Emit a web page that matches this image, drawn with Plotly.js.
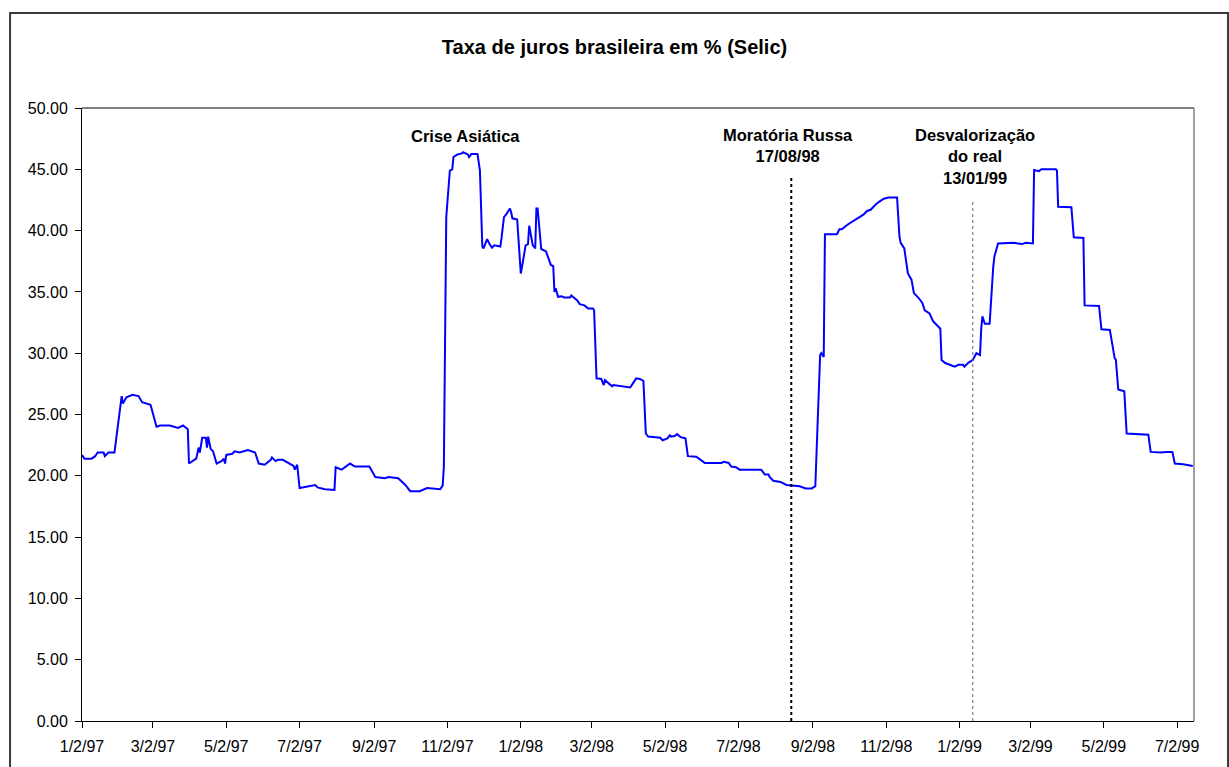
<!DOCTYPE html>
<html>
<head>
<meta charset="utf-8">
<script src="https://cdn.plot.ly/plotly-3.0.1.min.js"></script>
<style>
  html, body { margin: 0; padding: 0; background: #ffffff; }
  #chart { width: 1229px; height: 767px; }
</style>
</head>
<body>
<div id="chart"></div>
<script>
// Selic rate, % per year
const dates = [
  '1997-01-02','1997-01-04','1997-01-10','1997-01-13','1997-01-15','1997-01-20','1997-01-21','1997-01-24','1997-01-29',
  '1997-02-04','1997-02-05','1997-02-08','1997-02-13','1997-02-18','1997-02-21','1997-02-28',
  '1997-03-05','1997-03-08','1997-03-16','1997-03-23','1997-03-27','1997-03-31',
  '1997-04-01','1997-04-07','1997-04-09','1997-04-10','1997-04-12','1997-04-15','1997-04-16','1997-04-17','1997-04-19','1997-04-21','1997-04-24','1997-04-28','1997-04-30',
  '1997-05-01','1997-05-02','1997-05-07','1997-05-09','1997-05-13','1997-05-20','1997-05-26','1997-05-29',
  '1997-06-03','1997-06-08','1997-06-09','1997-06-12','1997-06-14','1997-06-18','1997-06-24','1997-06-27','1997-06-28','1997-06-30',
  '1997-07-02','1997-07-08','1997-07-15','1997-07-17','1997-07-23','1997-07-31',
  '1997-08-01','1997-08-06','1997-08-13','1997-08-17','1997-08-29',
  '1997-09-03','1997-09-11','1997-09-14','1997-09-22','1997-09-28',
  '1997-10-02','1997-10-10','1997-10-16','1997-10-27','1997-10-29','1997-10-30',
  '1997-11-01','1997-11-04','1997-11-06','1997-11-07','1997-11-10','1997-11-14','1997-11-15','1997-11-19','1997-11-20','1997-11-22','1997-11-27','1997-11-29',
  '1997-12-01','1997-12-02','1997-12-05','1997-12-07','1997-12-09','1997-12-11','1997-12-16','1997-12-17','1997-12-19','1997-12-21','1997-12-24','1997-12-25','1997-12-26','1997-12-30',
  '1998-01-02','1998-01-04','1998-01-06','1998-01-08','1998-01-09','1998-01-12','1998-01-14','1998-01-15','1998-01-16','1998-01-19','1998-01-23','1998-01-27','1998-01-29','1998-01-30','1998-01-31',
  '1998-02-02','1998-02-05','1998-02-07','1998-02-12','1998-02-13','1998-02-18','1998-02-20','1998-02-24','1998-02-27',
  '1998-03-03','1998-03-04','1998-03-06','1998-03-10','1998-03-12','1998-03-13','1998-03-17','1998-03-19','1998-03-20','1998-03-28',
  '1998-04-03','1998-04-05','1998-04-08','1998-04-11','1998-04-14','1998-04-16','1998-04-18','1998-04-28','1998-04-30',
  '1998-05-04','1998-05-06','1998-05-07','1998-05-10','1998-05-12','1998-05-15','1998-05-19','1998-05-21','1998-05-28',
  '1998-06-02','1998-06-04','1998-06-18','1998-06-20','1998-06-24','1998-06-26','1998-06-30',
  '1998-07-03','1998-07-21','1998-07-24','1998-07-27','1998-07-28','1998-07-31',
  '1998-08-06','1998-08-11','1998-08-17','1998-08-22','1998-08-27',
  '1998-09-01','1998-09-04','1998-09-08','1998-09-09','1998-09-11','1998-09-12','1998-09-22','1998-09-24','1998-09-26',
  '1998-10-01','1998-10-06','1998-10-10','1998-10-14','1998-10-17','1998-10-20','1998-10-24','1998-10-27','1998-10-31',
  '1998-11-04','1998-11-11','1998-11-13','1998-11-14','1998-11-17','1998-11-20','1998-11-23','1998-11-25','1998-11-29',
  '1998-12-02','1998-12-04','1998-12-08','1998-12-11','1998-12-13','1998-12-17','1998-12-18','1998-12-21','1998-12-29',
  '1999-01-01','1999-01-05','1999-01-06','1999-01-09','1999-01-13','1999-01-16','1999-01-19','1999-01-20','1999-01-21','1999-01-23','1999-01-27','1999-01-30','1999-01-31',
  '1999-02-03','1999-02-12','1999-02-16','1999-02-23','1999-02-26',
  '1999-03-04','1999-03-05','1999-03-09','1999-03-11','1999-03-23','1999-03-24','1999-03-25','1999-03-31',
  '1999-04-05','1999-04-07','1999-04-15','1999-04-16','1999-04-23','1999-04-28','1999-04-30',
  '1999-05-07','1999-05-11','1999-05-12','1999-05-14','1999-05-19','1999-05-21','1999-05-29',
  '1999-06-08','1999-06-10','1999-06-18','1999-06-23','1999-06-28','1999-06-30',
  '1999-07-05','1999-07-07','1999-07-15'
];

const selic = [
  21.7,21.4,21.4,21.6,21.9,21.9,21.6,21.9,21.9,
  26.5,25.9,26.4,26.6,26.5,26.0,25.8,
  24.0,24.1,24.1,23.9,24.1,23.8,
  21.0,21.4,22.3,21.9,23.1,23.1,22.3,23.2,22.2,22.0,21.0,21.2,21.4,
  21.0,21.7,21.8,22.0,21.9,22.1,21.9,21.0,
  20.9,21.3,21.5,21.2,21.3,21.3,21.0,20.8,20.5,20.9,
  19.0,19.1,19.25,19.05,18.9,18.85,
  20.7,20.5,21.0,20.75,20.75,
  19.9,19.8,19.9,19.8,19.25,
  18.75,18.75,19.0,18.9,19.2,20.7,
  41.1,44.9,45.0,46.0,46.2,46.3,46.4,46.2,46.0,46.25,46.25,44.9,
  38.7,38.55,39.3,38.9,38.6,38.8,38.7,39.4,41.1,41.35,41.8,41.5,41.0,40.9,
  36.5,37.6,38.8,38.9,40.4,38.8,38.55,41.8,41.8,38.5,38.3,37.2,37.1,35.0,35.3,
  34.6,34.65,34.55,34.55,34.7,34.3,34.0,33.9,33.65,
  33.65,33.5,27.95,27.9,27.4,27.8,27.5,27.3,27.4,27.3,
  27.2,27.5,27.95,27.9,27.75,23.45,23.2,23.1,22.9,
  23.05,23.3,23.2,23.25,23.4,23.15,23.05,21.6,21.55,
  21.15,21.05,21.05,21.15,21.05,20.75,20.7,
  20.5,20.5,20.1,20.1,19.9,19.6,
  19.5,19.25,19.2,19.15,18.97,
  18.97,19.15,29.85,30.0,29.7,39.7,39.7,40.1,40.1,
  40.5,40.8,41.1,41.3,41.6,41.7,42.1,42.35,42.6,
  42.7,42.7,39.5,39.0,38.55,36.5,36.0,34.9,34.5,
  34.1,33.5,33.25,32.6,32.4,32.0,29.45,29.2,28.9,
  29.05,29.05,28.9,29.2,29.45,30.0,29.85,32.0,33.0,32.4,32.4,37.05,37.9,
  38.95,38.95,39.0,38.9,39.0,
  38.95,44.95,44.85,45.0,45.0,44.9,41.95,41.95,
  41.9,39.45,39.4,33.9,33.9,33.85,31.95,
  31.9,29.6,29.45,27.05,26.9,23.45,23.4,
  23.35,21.95,21.9,21.95,21.95,21.0,
  21.0,20.95,20.8
];

// Events marked on the chart
const eventDates  = ['1997-11-17', '1998-08-15', '1999-01-13'];
const eventLabels = ['Crise Asiática', 'Moratória Russa<br>17/08/98', 'Desvalorização<br>do real<br>13/01/99'];

const FONT = 'Arial, "Liberation Sans", Helvetica, sans-serif';

const trace = {
  x: dates,
  y: selic,
  type: 'scatter',
  mode: 'lines',
  line: { color: '#0000ff', width: 2 },
  hoverinfo: 'x+y'
};

const layout = {
  width: 1229,
  height: 767,
  margin: { l: 82, r: 35, t: 108, b: 46 },
  paper_bgcolor: '#ffffff',
  plot_bgcolor: '#ffffff',
  showlegend: false,
  font: { family: FONT, color: '#000000', size: 16 },
  title: {
    text: 'Taxa de juros brasileira em % (Selic)',
    font: { family: FONT, size: 20, weight: 700, color: '#000000' },
    xref: 'container', x: 0.5, xanchor: 'center',
    yref: 'container', y: 1 - 47 / 767, yanchor: 'middle'
  },
  xaxis: {
    type: 'date',
    range: ['1997-01-02', '1999-07-16'],
    tick0: '1997-01-02',
    dtick: 'M2',
    tickformat: '%-m/%-d/%y',
    ticks: 'outside', ticklen: 6, tickwidth: 1, tickcolor: '#000000',
    ticklabelstandoff: 5,
    showline: true, linecolor: '#000000', linewidth: 1,
    showgrid: false, zeroline: false,
    tickfont: { family: FONT, size: 16, color: '#000000' }
  },
  yaxis: {
    range: [0, 50],
    tick0: 0, dtick: 5,
    tickformat: '.2f',
    ticks: 'outside', ticklen: 6, tickwidth: 1, tickcolor: '#000000',
    ticklabelstandoff: 4,
    showline: true, linecolor: '#000000', linewidth: 1,
    showgrid: false, zeroline: false,
    tickfont: { family: FONT, size: 16, color: '#000000' }
  },
  shapes: [
    // outer chart frame
    { type: 'rect', xref: 'paper', yref: 'paper',
      x0: -0.0647, x1: 1.0306, y0: -0.12, y1: 1.155,
      line: { color: '#3a3a3a', width: 2 }, fillcolor: 'rgba(0,0,0,0)', layer: 'below' },
    // plot area: top and right edges
    { type: 'line', xref: 'paper', yref: 'paper', x0: 0, x1: 1, y0: 1, y1: 1,
      line: { color: '#000000', width: 1 } },
    { type: 'line', xref: 'paper', yref: 'paper', x0: 1, x1: 1, y0: 0, y1: 1,
      line: { color: '#808080', width: 1.5 } },
    // event markers
    { type: 'line', xref: 'x', yref: 'paper', x0: eventDates[1], x1: eventDates[1], y0: 0, y1: 0.888,
      line: { color: '#000000', width: 2, dash: 'dot' } },
    { type: 'line', xref: 'x', yref: 'paper', x0: eventDates[2], x1: eventDates[2], y0: 0, y1: 0.847,
      line: { color: '#666666', width: 1, dash: 'dot' } }
  ],
  annotations: [
    { text: eventLabels[0], xref: 'x', yref: 'paper', x: eventDates[0], y: 0.9543,
      xanchor: 'center', yanchor: 'middle', showarrow: false, align: 'center',
      font: { family: FONT, size: 16.5, weight: 700, color: '#000000' } },
    { text: eventLabels[1], xref: 'x', yref: 'paper', x: '1998-08-12', y: 0.9396,
      xanchor: 'center', yanchor: 'middle', showarrow: false, align: 'center',
      font: { family: FONT, size: 16.5, weight: 700, color: '#000000' } },
    { text: eventLabels[2], xref: 'x', yref: 'paper', x: '1999-01-15', y: 0.9209,
      xanchor: 'center', yanchor: 'middle', showarrow: false, align: 'center',
      font: { family: FONT, size: 16.5, weight: 700, color: '#000000' } }
  ]
};

Plotly.newPlot('chart', [trace], layout, { displayModeBar: false, staticPlot: true });
</script>
</body>
</html>
